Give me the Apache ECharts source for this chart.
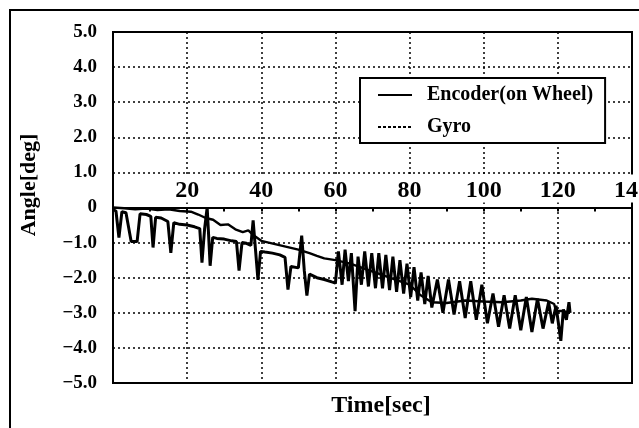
<!DOCTYPE html>
<html><head><meta charset="utf-8">
<script src="https://cdn.jsdelivr.net/npm/echarts/dist/echarts.min.js"></script>
<style>html,body{margin:0;padding:0;background:#fff}#c{width:639px;height:428px}</style>
</head><body><div id="c"></div>
<script>
const seriesNames = ['Encoder(on Wheel)', 'Gyro'];
const xName = 'Time[sec]';
const yName = 'Angle[deg]';
// [time (sec), angle (deg)]
const encoder = [[0,0],[3,-0.02],[6,-0.05],[9,-0.03],[12,-0.07],[15,-0.05],[18,-0.1],[21,-0.12],[23,-0.2],[25,-0.3],[27,-0.35],[29,-0.5],[31,-0.48],[33,-0.62],[35,-0.7],[36.5,-0.65],[38,-0.8],[40,-0.95],[42,-1.0],[44,-1.05],[46,-1.1],[48,-1.15],[50,-1.2],[53,-1.3],[55,-1.38],[57,-1.45],[60,-1.5],[64,-1.6],[68,-1.75],[72,-1.9],[76,-2.05],[80,-2.2],[83,-2.5],[86,-2.7],[90,-2.72],[95,-2.65],[100,-2.68],[105,-2.7],[110,-2.65],[113,-2.6],[117,-2.65],[119,-2.75],[119.5,-2.95],[121,-2.95],[123.3,-3.0]];
const gyro = [[0,-0.06],[0.8,-0.1],[1.6,-0.86],[2.4,-0.12],[3.5,-0.15],[4.9,-0.97],[6.5,-0.97],[7.3,-0.18],[9,-0.2],[10.2,-0.25],[10.8,-1.14],[11.5,-0.28],[13,-0.3],[14.8,-0.4],[15.6,-1.29],[16.4,-0.43],[18,-0.48],[20,-0.5],[22,-0.55],[23.4,-0.6],[24,-1.57],[24.7,-0.62],[25.4,0.0],[25.8,-0.8],[26.2,-1.66],[26.9,-0.85],[28,-0.88],[30,-0.9],[32,-0.95],[33.3,-0.97],[34,-1.8],[34.8,-1.0],[36,-1.02],[37.2,-1.08],[37.8,-0.37],[38.4,-1.15],[39.1,-2.06],[39.8,-1.25],[41,-1.27],[43,-1.3],[45,-1.35],[46.4,-1.42],[47.2,-2.34],[48,-1.68],[50,-1.72],[50.9,-0.8],[51.6,-1.8],[52.3,-2.51],[53,-1.9],[55,-2.0],[57,-2.05],[59,-2.12],
[60,-2.15],[60.8,-1.25],[61.8,-2.2],[62.6,-1.2],[63.5,-2.1],[64.3,-1.3],[65.3,-2.95],[66.1,-1.4],[67,-2.2],[67.9,-1.25],[68.9,-2.25],[69.8,-1.3],[70.8,-2.3],[71.7,-1.3],[72.7,-2.3],[73.6,-1.35],[74.6,-2.35],[75.5,-1.4],[76.5,-2.4],[77.4,-1.5],[78.4,-2.45],[79.3,-1.6],[80.3,-2.55],[81.2,-1.7],[82.2,-2.65],[83.1,-1.85],[84.1,-2.75],[85,-1.95],[86,-2.85],
[87.5,-2.05],[89,-3.0],[90.5,-2.05],[92,-3.05],[93.5,-2.1],[95,-3.15],[96.5,-2.1],[98,-3.2],[99.5,-2.2],[101,-3.3],[102.5,-2.45],[104,-3.4],[105.5,-2.5],[107,-3.45],[108.5,-2.5],[110,-3.5],[111.5,-2.55],[113,-3.55],[114.5,-2.6],[116,-3.45],[117.5,-2.7],[118.5,-3.3],[119.5,-2.8],[120.8,-3.8],[121.5,-2.9],[122.3,-3.2],[123,-2.7],[123.3,-3.0]];

const FONT = '"Liberation Serif", "Times New Roman", serif';
const GRID = {left: 113, top: 32, right: 7, bottom: 45};
const plotH = 428 - GRID.top - GRID.bottom;
const chart = echarts.init(document.getElementById('c'), null, {renderer: 'canvas'});
const dotted = {type: [2, 3], color: '#000', width: 1.5};
const noSymbol = {color: 'rgba(0,0,0,0)', borderColor: 'rgba(0,0,0,0)', borderWidth: 0};
chart.setOption({
  animation: false,
  backgroundColor: '#fff',
  grid: Object.assign({show: true, borderColor: '#000', borderWidth: 2, outerBoundsMode: 'none', containLabel: false}, GRID),
  xAxis: {
    type: 'value', min: 0, max: 140, interval: 20, position: 'bottom',
    offset: -plotH / 2,
    axisLine: {onZero: false, lineStyle: {color: '#000', width: 2}},
    axisTick: {show: true, length: 4, lineStyle: {color: '#000', width: 2}},
    minorTick: {show: true, splitNumber: 2, length: 4, lineStyle: {color: '#000', width: 2}},
    axisLabel: {inside: true, showMinLabel: false, color: '#000', fontFamily: FONT, fontWeight: 'bold', fontSize: 24, margin: 5,
      backgroundColor: '#fff', padding: [4, 4, 0, 4]},
    splitLine: {show: true, lineStyle: dotted}
  },
  yAxis: {
    type: 'value', min: -5, max: 5, interval: 1,
    axisLine: {show: true, onZero: false, lineStyle: {color: '#000', width: 2}},
    axisTick: {show: false},
    axisLabel: {color: '#000', fontFamily: FONT, fontWeight: 'bold', fontSize: 19, margin: 16,
      formatter: v => v === 0 ? '0' : (v < 0 ? '\u2212' + Math.abs(v).toFixed(1) : v.toFixed(1))},
    splitLine: {show: true, lineStyle: dotted}
  },
  legend: {
    orient: 'vertical', left: 360, top: 78,
    itemWidth: 34, itemHeight: 12, itemGap: 12,
    padding: [7, 12, 6, 17],
    borderColor: '#000', borderWidth: 2, backgroundColor: '#fff',
    itemStyle: noSymbol,
    textStyle: {color: '#000', fontFamily: FONT, fontWeight: 'bold', fontSize: 20, padding: [0, 0, 0, 10]},
    data: [
      {name: seriesNames[0], itemStyle: noSymbol},
      {name: seriesNames[1], itemStyle: noSymbol, lineStyle: {type: [3, 2]}}
    ]
  },
  series: [
    {name: seriesNames[0], type: 'line', data: encoder, symbol: 'none', lineStyle: {color: '#000', width: 2.4}, itemStyle: {color: '#000'}},
    {name: seriesNames[1], type: 'line', data: gyro, symbol: 'none', lineStyle: {color: '#000', width: 3}, itemStyle: {color: '#000'}}
  ],
  graphic: [
    {type: 'rect', silent: true, shape: {x: 10, y: 10, width: 700, height: 500}, style: {fill: 'none', stroke: '#000', lineWidth: 2}},
    {type: 'text', x: 381, y: 406, style: {text: xName, font: 'bold 24px ' + FONT, fill: '#000', align: 'center', verticalAlign: 'middle', textAlign: 'center', textVerticalAlign: 'middle'}},
    {type: 'text', x: 29, y: 185, rotation: Math.PI / 2, style: {text: yName, font: 'bold 22px ' + FONT, fill: '#000', align: 'center', verticalAlign: 'middle', textAlign: 'center', textVerticalAlign: 'middle'}}
  ]
});
</script>
</body></html>
